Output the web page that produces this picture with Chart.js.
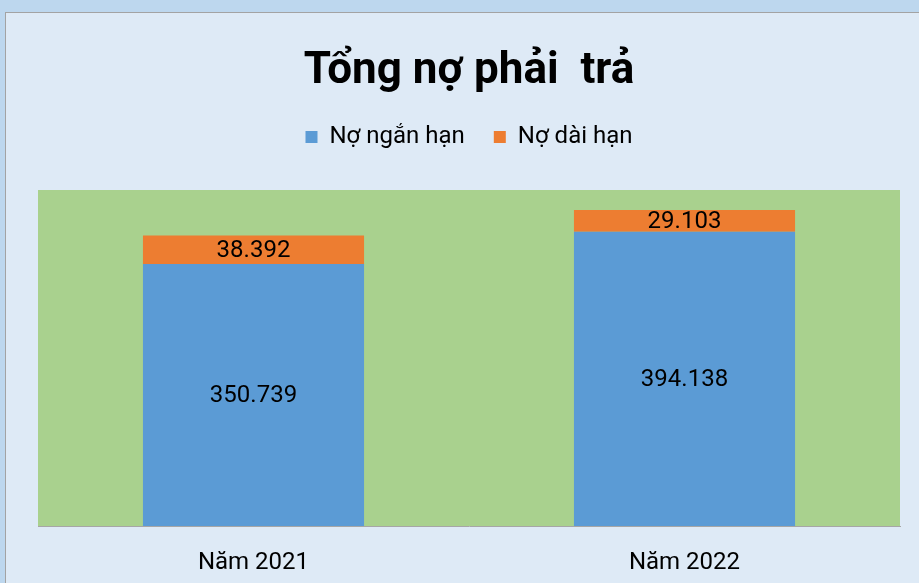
<!DOCTYPE html>
<html>
<head>
<meta charset="utf-8">
<script src="https://cdn.jsdelivr.net/npm/chart.js@4.4.0/dist/chart.umd.min.js"></script>
<style>
  html, body { margin: 0; padding: 0; width: 919px; height: 583px; overflow: hidden; background: #bdd7ee; }
  #frame { position: absolute; left: 5px; top: 12px; width: 940px; height: 600px; background: #deeaf6; border: 1px solid #a3a3a3; }
  #chart { position: absolute; left: 0; top: 0; }
</style>
</head>
<body>
<div id="frame"></div>
<canvas id="chart" width="919" height="583"></canvas>
<script>
// chart data
const categories = ['Năm 2021', 'Năm 2022'];
const seriesNames = ['Nợ ngắn hạn', 'Nợ dài hạn'];
const shortTermDebt = [350739, 394138];
const longTermDebt = [38392, 29103];
const chartTitle = 'Tổng nợ phải  trả';
const yMax = 450000;

const FONT = 'Roboto, "Noto Sans", sans-serif';

// format 350739 -> "350.739"
function formatVN(v) {
  return String(Math.round(v)).replace(/\B(?=(\d{3})+(?!\d))/g, '.');
}

// green plot area background
const plotBg = {
  id: 'plotBg',
  beforeDraw(chart) {
    const { ctx, chartArea: a } = chart;
    ctx.save();
    ctx.fillStyle = '#a9d18e';
    ctx.fillRect(a.left, a.top, a.right - a.left, a.bottom - a.top);
    ctx.restore();
  }
};

// extra space under the legend
const legendGap = {
  id: 'legendGap',
  afterInit(chart) {
    const legend = chart.legend;
    const fit = legend.fit;
    legend.fit = function () {
      fit.call(this);
      this.height += 31;
    };
  }
};

// value labels in the middle of each segment
const valueLabels = {
  id: 'valueLabels',
  afterDatasetsDraw(chart) {
    const ctx = chart.ctx;
    ctx.save();
    ctx.font = '24px ' + FONT;
    ctx.fillStyle = '#000';
    ctx.textAlign = 'center';
    ctx.textBaseline = 'middle';
    chart.data.datasets.forEach((ds, i) => {
      chart.getDatasetMeta(i).data.forEach((bar, j) => {
        const { x, y, base } = bar.getProps(['x', 'y', 'base'], true);
        ctx.fillText(formatVN(ds.data[j]), x, (y + base) / 2 + 1);
      });
    });
    ctx.restore();
  }
};

new Chart(document.getElementById('chart'), {
  type: 'bar',
  data: {
    labels: categories,
    datasets: [
      { label: seriesNames[0], data: shortTermDebt, backgroundColor: '#5b9bd5' },
      { label: seriesNames[1], data: longTermDebt, backgroundColor: '#ed7d31' }
    ]
  },
  options: {
    responsive: false,
    animation: false,
    layout: { padding: { left: 38, right: 19, top: 0, bottom: 0 } },
    datasets: {
      bar: { categoryPercentage: 1, barPercentage: 0.513 }
    },
    scales: {
      x: {
        stacked: true,
        grid: { display: false, drawTicks: false },
        border: { display: true, color: '#a6a6a6', width: 1 },
        ticks: { color: '#000', font: { family: FONT, size: 24 }, padding: 23 },
        afterFit(scale) { scale.height = 57; }
      },
      y: {
        stacked: true,
        display: false,
        min: 0,
        max: yMax
      }
    },
    plugins: {
      title: {
        display: true,
        text: chartTitle,
        color: '#000',
        font: { family: FONT, size: 44, weight: 'bold', lineHeight: 1 },
        padding: { top: 50, bottom: 2 }
      },
      legend: {
        display: true,
        position: 'top',
        labels: {
          color: '#000',
          font: { family: FONT, size: 24 },
          boxWidth: 12,
          boxHeight: 12,
          padding: 29
        }
      },
      tooltip: { enabled: false }
    }
  },
  plugins: [plotBg, legendGap, valueLabels]
});
</script>
</body>
</html>
